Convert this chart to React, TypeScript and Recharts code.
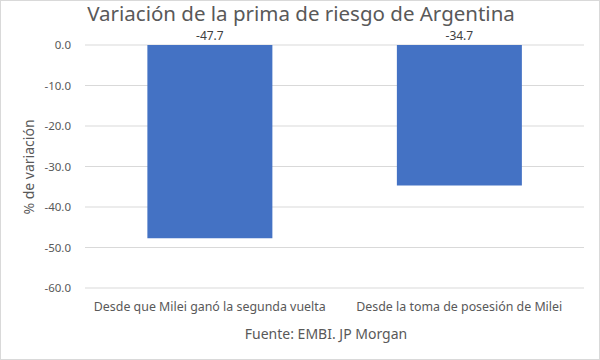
import { Bar, BarChart, CartesianGrid, LabelList, XAxis, YAxis } from "recharts";

const categories = ["Desde que Milei ganó la segunda vuelta", "Desde la toma de posesión de Milei"];
const variation = [-47.7, -34.7];
const yTicks = [0, -10, -20, -30, -40, -50, -60];

const data = categories.map((name, i) => ({ name, value: variation[i] }));

const FONT = "'Noto Sans', sans-serif";
const GRAY = "#595959";

const TopLabel = (props: any) => {
  const { x, y, width, height, value } = props;
  const top = Math.min(y, y + height);
  return (
    <text x={x + width / 2} y={top - 5} textAnchor="middle" fill="#404040" fontSize={12} fontFamily={FONT}>
      {value.toFixed(1)}
    </text>
  );
};

export default function App() {
  return (
    <div
      style={{
        position: "absolute",
        left: 0,
        top: 0,
        width: 600,
        height: 360,
        background: "#fff",
        border: "1px solid #d9d9d9",
        boxSizing: "border-box",
        fontFamily: FONT,
      }}
    >
      <div
        style={{
          position: "absolute",
          left: 0,
          width: 600,
          top: 1,
          textAlign: "center",
          fontSize: 20.5,
          lineHeight: "22px",
          color: GRAY,
        }}
      >
        Variación de la prima de riesgo de Argentina
      </div>
      <div
        style={{
          position: "absolute",
          left: 28,
          top: 166,
          transform: "translate(-50%, -50%) rotate(-90deg)",
          whiteSpace: "nowrap",
          fontSize: 14,
          lineHeight: "16px",
          color: GRAY,
        }}
      >
        % de variación
      </div>
      <div
        style={{
          position: "absolute",
          left: 75,
          width: 500,
          top: 324,
          textAlign: "center",
          fontSize: 14,
          lineHeight: "18px",
          color: GRAY,
        }}
      >
        Fuente: EMBI. JP Morgan
      </div>
      <BarChart
        width={599}
        height={359}
        data={data}
        margin={{ top: 45, right: 15, bottom: 41, left: 25 }}
        barCategoryGap="25%"
        style={{ position: "absolute", left: -1, top: -1 }}
      >
        <CartesianGrid vertical={false} stroke="#d9d9d9" />
        <XAxis
          dataKey="name"
          height={30}
          axisLine={false}
          tickLine={false}
          tickMargin={8}
          interval={0}
          tick={{ fill: GRAY, fontSize: 12.4, fontFamily: FONT }}
        />
        <YAxis
          width={60}
          domain={[-60, 0]}
          ticks={yTicks}
          axisLine={false}
          tickLine={false}
          tickMargin={8}
          tickFormatter={(v: number) => v.toFixed(1)}
          tick={{ fill: GRAY, fontSize: 11.5, fontFamily: FONT }}
        />
        <Bar dataKey="value" fill="#4472C4" isAnimationActive={false}>
          <LabelList dataKey="value" content={TopLabel} />
        </Bar>
      </BarChart>
    </div>
  );
}
